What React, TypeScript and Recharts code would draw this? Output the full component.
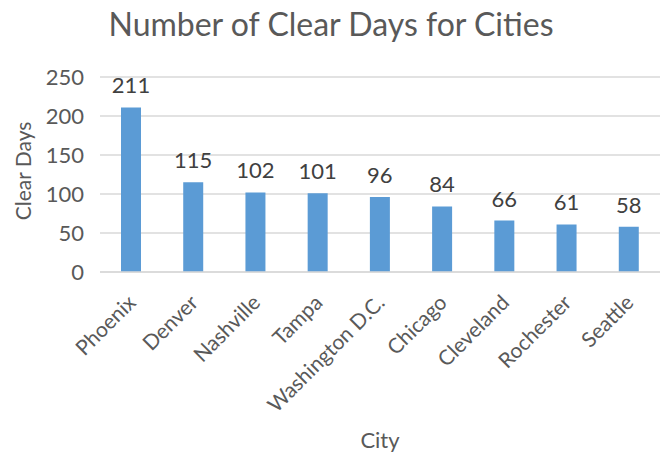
import React from "react";
import { BarChart, Bar, XAxis, YAxis, CartesianGrid, LabelList, Label } from "recharts";

const cities = ["Phoenix", "Denver", "Nashville", "Tampa", "Washington D.C.", "Chicago", "Cleveland", "Rochester", "Seattle"];
const clearDays = [211, 115, 102, 101, 96, 84, 66, 61, 58];
const yTicks = [0, 50, 100, 150, 200, 250];

const FONT = "Lato, 'Open Sans', sans-serif";
const GREY = "#595959";

const data = cities.map((city, i) => ({ city, days: clearDays[i] }));

// rotated category labels, anchored at their right end
const CityTick = (props: any) => {
  const { x, y, payload } = props;
  return (
    <g transform={`translate(${x + 6},${y + 30}) rotate(-45)`}>
      <text textAnchor="end" fill={GREY} fontSize={21} fontFamily={FONT}>
        {payload.value}
      </text>
    </g>
  );
};

const DaysTick = (props: any) => {
  const { y, payload } = props;
  return (
    <text x={84} y={y} dy={8} textAnchor="end" fill={GREY} fontSize={22} fontFamily={FONT}>
      {payload.value}
    </text>
  );
};

const App = () => {
  return (
    <div style={{ position: "absolute", left: 0, top: 0, width: 668, height: 457, background: "#fff" }}>
      <div
        style={{
          position: "absolute",
          left: 0,
          top: 4,
          width: 662,
          textAlign: "center",
          fontFamily: FONT,
          fontSize: 32,
          color: GREY,
        }}
      >
        Number of Clear Days for Cities
      </div>
      <BarChart width={668} height={457} data={data} margin={{ top: 77, right: 8, left: 0, bottom: 0 }}>
        <CartesianGrid vertical={false} stroke="#d9d9d9" strokeWidth={1.5} />
        <XAxis
          dataKey="city"
          height={185}
          tickLine={false}
          axisLine={{ stroke: "#d9d9d9", strokeWidth: 1.5 }}
          tick={<CityTick />}
          interval={0}
          tickSize={0}
        >
          <Label
            content={() => (
              <text x={380} y={448} textAnchor="middle" fill={GREY} fontSize={22} fontFamily={FONT}>
                City
              </text>
            )}
          />
        </XAxis>
        <YAxis
          width={100}
          domain={[0, 250]}
          ticks={yTicks}
          tickLine={false}
          axisLine={false}
          tick={<DaysTick />}
        >
          <Label
            content={() => (
              <text
                x={0}
                y={0}
                transform="translate(31,171) rotate(-90)"
                textAnchor="middle"
                fill={GREY}
                fontSize={21}
                fontFamily={FONT}
              >
                Clear Days
              </text>
            )}
          />
        </YAxis>
        <Bar dataKey="days" fill="#5b9bd5" barSize={20} isAnimationActive={false}>
          <LabelList dataKey="days" position="top" offset={14} fill="#404040" fontSize={22} fontFamily={FONT} />
        </Bar>
      </BarChart>
    </div>
  );
};

export default App;
